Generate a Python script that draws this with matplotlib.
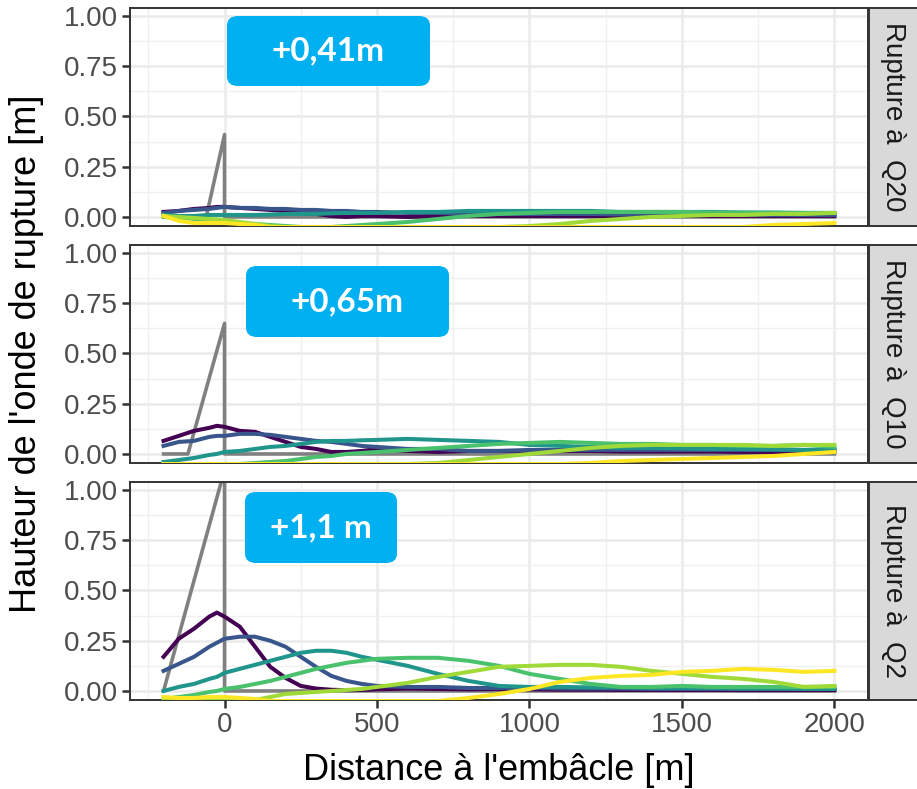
import numpy as np
import matplotlib.pyplot as plt
from matplotlib.patches import FancyBboxPatch
from matplotlib.ticker import MultipleLocator

plt.rcParams['font.family'] = ['Liberation Sans', 'DejaVu Sans']

# distance a l'embacle [m]
distance = [-200, -150, -100, -50, -25, 0, 50, 100, 150, 200, 250, 300, 350, 400, 450, 500,
            600, 700, 800, 900, 1000, 1100, 1200, 1300, 1400, 1500, 1600, 1700, 1800, 1900, 2000]

# viridis, 6 pas de temps
colors = ['#440154', '#39568C', '#1F958B', '#4AC16D', '#A0DA39', '#FDE725']

# --- Rupture a Q20 ---
q20_t1 = [.025, .03, .04, .045, .05, .05, .045, .04, .035, .03, .02, .015, .005, 0, .005, .005,
          0, .005, .005, .005, .005, .005, .005, .005, .005, .005, .005, .005, .005, .005, .005]
q20_t2 = [.02, .03, .035, .04, .045, .05, .045, .045, .04, .04, .035, .035, .03, .03, .025, .025,
          .02, .02, .015, .015, .015, .015, .015, .012, .012, .012, .012, .01, .01, .01, .01]
q20_t3 = [.01, .005, .005, .01, .01, .01, .01, .01, .012, .015, .015, .015, .018, .02, .02, .02,
          .025, .025, .03, .03, .03, .03, .03, .025, .025, .025, .025, .022, .022, .02, .02]
q20_t4 = [0, -.005, -.01, -.015, -.018, -.02, -.03, -.035, -.04, -.045, -.05, -.05, -.05, -.045, -.04, -.035,
          -.025, -.01, .005, .015, .02, .025, .025, .025, .025, .025, .022, .022, .02, .02, .02]
q20_t5 = [.005, 0, -.005, -.01, -.012, -.015, -.025, -.035, -.045, -.05, -.05, -.05, -.05, -.05, -.05, -.05,
          -.05, -.05, -.05, -.05, -.045, -.035, -.02, -.01, 0, .005, .01, .01, .015, .015, .02]
q20_t6 = [.005, -.02, -.03, -.03, -.03, -.03, -.035, -.04, -.05, -.05, -.05, -.05, -.05, -.05, -.05, -.05,
          -.05, -.05, -.05, -.05, -.05, -.05, -.05, -.05, -.05, -.05, -.05, -.05, -.04, -.035, -.03]

# --- Rupture a Q10 ---
q10_t1 = [.065, .09, .115, .13, .14, .135, .115, .11, .085, .06, .035, .025, .01, .01, .015, .025,
          .015, .01, .015, .015, .015, .015, .015, .012, .012, .012, .012, .01, .01, .01, .01]
q10_t2 = [.04, .06, .065, .085, .09, .09, .10, .10, .095, .085, .075, .065, .06, .05, .04, .035,
          .025, .025, .015, .015, .02, .02, .02, .02, .02, .02, .02, .02, .02, .02, .02]
q10_t3 = [-.04, -.03, -.02, -.005, 0, .01, .015, .025, .035, .04, .05, .06, .065, .065, .068, .07,
          .075, .07, .065, .06, .045, .04, .035, .03, .03, .028, .025, .025, .022, .02, .02]
q10_t4 = [-.05, -.05, -.05, -.05, -.05, -.05, -.05, -.045, -.04, -.035, -.025, -.015, -.01, 0, .005, .01,
          .02, .03, .04, .05, .055, .06, .055, .05, .05, .045, .045, .04, .04, .045, .035]
q10_t5 = [-.05, -.05, -.05, -.05, -.05, -.05, -.05, -.05, -.05, -.05, -.05, -.05, -.05, -.05, -.05, -.05,
          -.05, -.045, -.03, -.015, 0, .015, .03, .04, .045, .045, .045, .045, .04, .045, .045]
q10_t6 = [-.05, -.05, -.05, -.05, -.05, -.05, -.05, -.05, -.05, -.05, -.05, -.05, -.05, -.05, -.05, -.05,
          -.05, -.05, -.05, -.05, -.05, -.05, -.045, -.035, -.03, -.025, -.02, -.015, -.01, 0, .01]

# --- Rupture a Q2 ---
q2_t1 = [.17, .26, .31, .37, .39, .37, .32, .22, .12, .065, .025, .012, .006, .004, .005, .008,
         .012, .01, .008, .01, .008, .006, .006, .005, .005, .005, .005, .004, .004, .004, .004]
q2_t2 = [.10, .135, .17, .22, .24, .26, .27, .27, .25, .22, .17, .12, .075, .05, .035, .025,
         .02, .02, .015, .015, .015, .012, .012, .012, .01, .01, .01, .01, .01, .01, .01]
q2_t3 = [0, .02, .035, .06, .07, .09, .11, .13, .15, .17, .19, .20, .20, .19, .17, .155,
         .125, .085, .05, .025, .02, .02, .018, .018, .015, .015, .015, .012, .012, .01, .01]
q2_t4 = [-.04, -.03, -.02, -.005, 0, .01, .02, .035, .05, .07, .09, .11, .125, .14, .15, .16,
         .165, .165, .15, .125, .085, .06, .035, .02, .02, .025, .02, .02, .02, .02, .02]
q2_t5 = [-.05, -.05, -.05, -.05, -.05, -.05, -.05, -.045, -.03, -.015, -.01, -.005, 0, .005, .01, .02,
         .04, .07, .095, .12, .125, .13, .13, .12, .10, .085, .07, .06, .045, .02, .025]
q2_t6 = [-.03, -.035, -.035, -.03, -.03, -.03, -.035, -.04, -.05, -.05, -.05, -.05, -.05, -.05, -.05, -.05,
         -.05, -.05, -.035, -.015, .01, .045, .065, .075, .08, .095, .10, .11, .105, .095, .10]

# onde initiale (gris)
init_x_q20 = [-200, -60, 0, 0, 2000]
init_y_q20 = [0, 0, 0.41, 0, 0]
init_x_q10 = [-200, -120, 0, 0, 2000]
init_y_q10 = [0, 0, 0.65, 0, 0]
init_x_q2 = [-200, 0, 0, 2000]
init_y_q2 = [0, 1.1, 0, 0]

panels = [
    ("Rupture à  Q20", [q20_t1, q20_t2, q20_t3, q20_t4, q20_t5, q20_t6], init_x_q20, init_y_q20, "+0,41m"),
    ("Rupture à  Q10", [q10_t1, q10_t2, q10_t3, q10_t4, q10_t5, q10_t6], init_x_q10, init_y_q10, "+0,65m"),
    ("Rupture à  Q2", [q2_t1, q2_t2, q2_t3, q2_t4, q2_t5, q2_t6], init_x_q2, init_y_q2, "+1,1 m"),
]

W, H = 917, 789
fig = plt.figure(figsize=(W / 100, H / 100), dpi=100)

panel_tops = [8, 245, 482]
panel_h = 218
px_left, px_right = 130, 868
# boites bleues (pixels): x0, y0, largeur, hauteur
boxes = [(227, 16, 203, 70), (246, 266, 203, 71), (245, 492, 152, 71)]

for i, (strip, series, gx, gy, label) in enumerate(panels):
    top = panel_tops[i]
    ax = fig.add_axes([px_left / W, 1 - (top + panel_h) / H, (px_right - px_left) / W, panel_h / H])
    ax.set_xlim(-310, 2110)
    ax.set_ylim(-0.045, 1.04)
    ax.xaxis.set_major_locator(MultipleLocator(500))
    ax.xaxis.set_minor_locator(MultipleLocator(250))
    ax.yaxis.set_major_locator(MultipleLocator(0.25))
    ax.yaxis.set_minor_locator(MultipleLocator(0.125))
    ax.grid(which='major', color='#EBEBEB', lw=1.8)
    ax.grid(which='minor', color='#F0F0F0', lw=1.0)
    ax.set_axisbelow(True)
    for s in ax.spines.values():
        s.set_color('#333333')
        s.set_linewidth(1.4)
    ax.tick_params(which='major', length=5.5, width=1.8, color='#333333',
                   labelsize=20, labelcolor='#4D4D4D', pad=3)
    ax.tick_params(which='minor', length=0)
    ax.set_yticks([0, 0.25, 0.5, 0.75, 1.0])
    ax.set_yticklabels(['0.00', '0.25', '0.50', '0.75', '1.00'])
    if i < 2:
        ax.tick_params(axis='x', labelbottom=False, length=0)

    ax.plot(gx, gy, color='#808080', lw=2.6, zorder=2)
    for c, ys in zip(colors, series):
        ax.plot(distance, ys, color=c, lw=2.9, zorder=3)

    # bandeau de facette
    sax = fig.add_axes([(px_right + 1) / W, 1 - (top + panel_h) / H, 60 / W, panel_h / H])
    sax.set_xticks([])
    sax.set_yticks([])
    sax.set_facecolor('#D9D9D9')
    for s in sax.spines.values():
        s.set_color('#333333')
        s.set_linewidth(1.4)
    fig.text((px_right + 25) / W, 1 - (top + panel_h / 2) / H, strip, rotation=-90,
             ha='center', va='center', fontsize=20, color='#1A1A1A')

    bx, by, bw, bh = boxes[i]
    fig.patches.append(FancyBboxPatch((bx / W, 1 - (by + bh) / H), bw / W, bh / H,
                                      boxstyle="round,pad=0,rounding_size=0.012",
                                      transform=fig.transFigure, facecolor='#00B0F0',
                                      edgecolor='none', zorder=5))
    fig.text((bx + bw / 2) / W, 1 - (by + bh / 2) / H, label, ha='center', va='center',
             fontsize=24, fontweight='bold', color='white', family='Lato', zorder=6)

fig.text(499 / W, 1 - 770 / H, "Distance à l'embâcle [m]", ha='center', va='center',
         fontsize=26, color='black')
fig.text(27 / W, 1 - 354 / H, "Hauteur de l'onde de rupture [m]", ha='center', va='center',
         rotation=90, fontsize=26, color='black')

fig.savefig('out.png', dpi=100)
